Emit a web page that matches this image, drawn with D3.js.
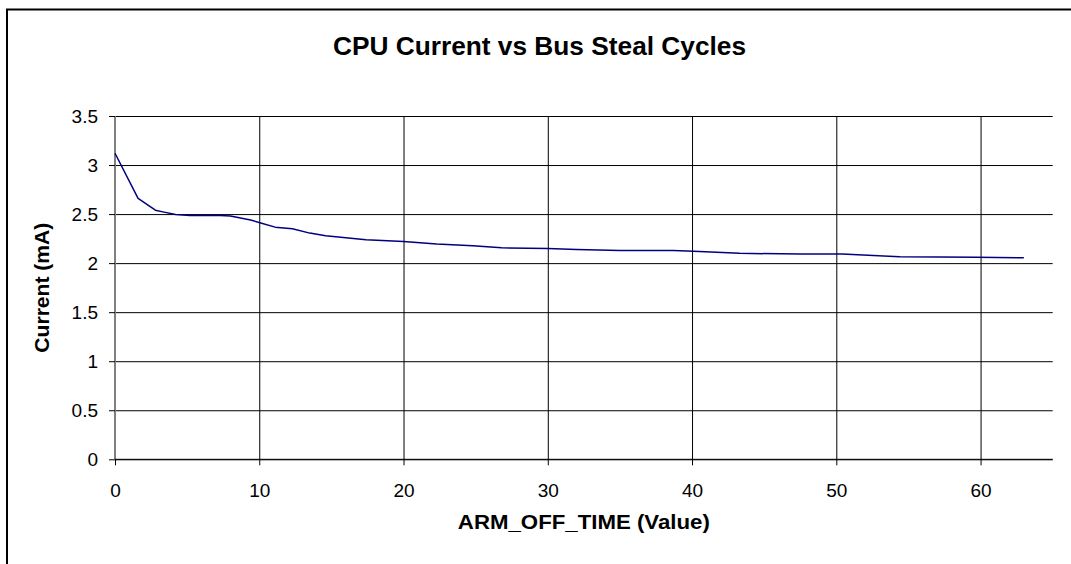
<!DOCTYPE html>
<html>
<head>
<meta charset="utf-8">
<script src="https://cdn.jsdelivr.net/npm/d3@7"></script>
<style>
  html, body { margin: 0; padding: 0; background: #fff; }
  svg { display: block; }
  text { font-family: Arial, "Liberation Sans", sans-serif; fill: #000; }
</style>
</head>
<body>
<svg id="chart" width="1071" height="564"></svg>
<script>
// Measured CPU current for each ARM_OFF_TIME setting
const armOffTime = [0, 1.6, 2.8, 3.4, 4.2, 5.2, 7.3, 8.0, 9.4, 10.1, 11.1, 12.3, 13.5, 14.6,
  17.4, 20, 22.3, 24.8, 26.8, 30, 32, 35, 38.7, 40.1, 43.3, 47.5, 50.4, 54.4, 59.7, 63];
const currentMA = [3.12, 2.66, 2.54, 2.52, 2.495, 2.486, 2.486, 2.48, 2.44, 2.41, 2.367, 2.35, 2.306, 2.279,
  2.238, 2.22, 2.194, 2.177, 2.156, 2.149, 2.139, 2.129, 2.129, 2.122, 2.10, 2.092, 2.092, 2.065, 2.061, 2.054];

const xTicks = [0, 10, 20, 30, 40, 50, 60];
const yTicks = [0, 0.5, 1, 1.5, 2, 2.5, 3, 3.5];

const chartTitle = "CPU Current vs Bus Steal Cycles";
const xTitle = "ARM_OFF_TIME (Value)";
const yTitle = "Current (mA)";

const svg = d3.select("#chart");
const plot = { left: 115, right: 1052.7, top: 116, bottom: 459.3 };

const x = d3.scaleLinear().domain([0, 65]).range([plot.left, plot.right]);
const y = d3.scaleLinear().domain([0, 3.5]).range([plot.bottom, plot.top]);

// Outer chart frame (runs past the right and bottom edges)
svg.append("rect")
  .attr("x", 7).attr("y", 9.5)
  .attr("width", 1100).attr("height", 600)
  .attr("fill", "none").attr("stroke", "#000").attr("stroke-width", 2);

// Horizontal gridlines
svg.append("g")
  .attr("transform", `translate(${plot.left},0)`)
  .call(d3.axisLeft(y).tickValues(yTicks).tickSize(-(plot.right - plot.left)).tickFormat(""))
  .call(g => g.select(".domain").remove())
  .call(g => g.selectAll("line").attr("stroke", "#000").attr("stroke-width", 1));

// Vertical gridlines
svg.append("g")
  .attr("transform", `translate(0,${plot.bottom})`)
  .call(d3.axisBottom(x).tickValues(xTicks.slice(1)).tickSize(-(plot.bottom - plot.top)).tickFormat(""))
  .call(g => g.select(".domain").remove())
  .call(g => g.selectAll("line").attr("stroke", "#000").attr("stroke-width", 1));

// Y axis
const yAxis = svg.append("g")
  .attr("transform", `translate(${plot.left},0)`)
  .call(d3.axisLeft(y).tickValues(yTicks).tickSize(6).tickPadding(11).tickFormat(d3.format("")))
  .call(g => g.select(".domain").attr("d", `M0,${plot.top}V${plot.bottom}`).attr("stroke", "#808080").attr("stroke-width", 2))
  .call(g => g.selectAll(".tick line").attr("stroke", "#000"));
yAxis.selectAll(".tick text")
  .attr("font-size", 19).attr("font-family", "Arial, 'Liberation Sans', sans-serif").attr("fill", "#000");

// X axis
const xAxis = svg.append("g")
  .attr("transform", `translate(0,${plot.bottom})`)
  .call(d3.axisBottom(x).tickValues(xTicks).tickSize(6).tickPadding(18).tickFormat(d3.format("d")))
  .call(g => g.select(".domain").attr("d", `M${plot.left},0H${plot.right}`).attr("stroke", "#000").attr("stroke-width", 1))
  .call(g => g.selectAll(".tick line").attr("stroke", "#000"));
xAxis.selectAll(".tick text")
  .attr("font-size", 19).attr("font-family", "Arial, 'Liberation Sans', sans-serif").attr("fill", "#000");

// Data line
const line = d3.line().x((d, i) => x(armOffTime[i])).y(d => y(d));
svg.append("path")
  .datum(currentMA)
  .attr("d", line)
  .attr("fill", "none")
  .attr("stroke", "#000080")
  .attr("stroke-width", 1.5)
  .attr("stroke-linejoin", "round");

// Titles
svg.append("text")
  .attr("x", 539.5).attr("y", 55)
  .attr("text-anchor", "middle")
  .attr("font-size", 25).attr("font-weight", "bold")
  .attr("textLength", 413).attr("lengthAdjust", "spacingAndGlyphs")
  .text(chartTitle);

svg.append("text")
  .attr("x", (plot.left + plot.right) / 2).attr("y", 529)
  .attr("text-anchor", "middle")
  .attr("font-size", 20).attr("font-weight", "bold")
  .attr("textLength", 252).attr("lengthAdjust", "spacingAndGlyphs")
  .text(xTitle);

svg.append("text")
  .attr("transform", `translate(49,${(plot.top + plot.bottom) / 2}) rotate(-90)`)
  .attr("text-anchor", "middle")
  .attr("font-size", 20).attr("font-weight", "bold")
  .attr("textLength", 130).attr("lengthAdjust", "spacingAndGlyphs")
  .text(yTitle);
</script>
</body>
</html>
